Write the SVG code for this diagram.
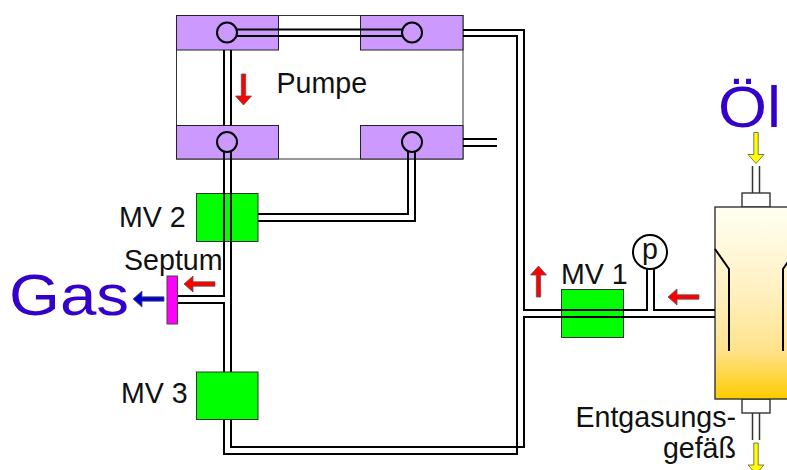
<svg xmlns="http://www.w3.org/2000/svg" width="787" height="470" viewBox="0 0 787 470">
<style>
text{font-family:"Liberation Sans",Arial,sans-serif;font-size:28.600px;fill:#111}
.big{font-size:58px;fill:#3300cc}
.pipe{fill:none;stroke:#000;stroke-width:2}
.frame{fill:#fff;stroke:#333;stroke-width:1}
.block{fill:#cc99ff;stroke:#222;stroke-width:1}
.valve{fill:#00ff00;stroke:#333;stroke-width:1}
.port{fill:none;stroke:#000;stroke-width:2}
.red{fill:#ff0000;stroke:#555;stroke-width:.8}
.yel{fill:#ffff00;stroke:#555;stroke-width:.8}
.blu{fill:#0000cc;stroke:#555;stroke-width:.8}
</style>
<defs>
<linearGradient id="oil" x1="0" y1="0" x2="0" y2="1">
<stop offset="0" stop-color="#fffff2"/>
<stop offset=".45" stop-color="#fff0c0"/>
<stop offset=".75" stop-color="#ffe28a"/>
<stop offset="1" stop-color="#ffcc00"/>
</linearGradient>
<polygon id="arr" points="-2.2,0 2.2,0 2.2,22 8,22 0,31 -8,22 -2.2,22"/>
</defs>

<g id="vessel">
<rect x="742" y="193" width="28" height="14" fill="#fff" stroke="#333" stroke-width="1.4"/>
<rect x="742" y="399" width="28" height="14" fill="#fff" stroke="#333" stroke-width="1.4"/>
<rect x="715" y="207" width="90" height="192" fill="url(#oil)" stroke="#333" stroke-width="1.4"/>
<path class="pipe" d="M715 249L729 269V351M797 249L783 269V351"/>
<path d="M752.5 166V193M759.5 166V193M752.5 413V440M759.5 413V440" fill="none" stroke="#333" stroke-width="1.5"/>
</g>

<g id="pump">
<rect class="frame" x="176.500" y="15.500" width="286.500" height="143.500"/>
<rect class="block" x="176.500" y="15.500" width="102" height="34.500"/>
<rect class="block" x="360.500" y="15.500" width="102.500" height="34.500"/>
<rect class="block" x="176.500" y="125.500" width="102" height="33.500"/>
<rect class="block" x="360.500" y="125.500" width="102.500" height="33.500"/>
<circle class="port" cx="227" cy="32.500" r="10"/>
<circle class="port" cx="412" cy="32.500" r="10"/>
<circle class="port" cx="227" cy="142" r="10"/>
<circle class="port" cx="412" cy="142" r="10"/>
<text x="276.500" y="93">Pumpe</text>
</g>

<g id="mv1"><rect class="valve" x="561.500" y="289.500" width="62" height="48"/><text x="561" y="284">MV 1</text></g>
<g id="mv2"><rect class="valve" x="196.500" y="193.500" width="61.500" height="48"/><text x="119" y="227">MV 2</text></g>

<g id="connectors">
<path class="pipe" d="M237 29.500H402M237 36H402"/>
<path class="pipe" d="M224 50V125.500M231 50V125.500"/>
<path class="pipe" d="M463 30H524V310H647V268M654 268V310H715"/>
<path class="pipe" d="M463 36H517V454H224V420M231 420V447H524V317H715"/>
<path class="pipe" d="M463 139H497M463 146H497"/>
<path class="pipe" d="M258 214H408V152M258 221H415V152"/>
<path class="pipe" d="M224 152V296H178M231 152V372M178 303H224V372"/>
</g>

<g id="mv3"><rect class="valve" x="196.500" y="372" width="61.500" height="47.500"/><text x="121" y="403">MV 3</text></g>
<g id="septum"><rect x="167" y="276" width="10.500" height="48" fill="#ff00ff" stroke="#444" stroke-width="1"/><text x="124" y="270">Septum</text></g>
<g id="gauge"><circle cx="650" cy="252" r="17" fill="#fff" stroke="#000" stroke-width="2"/><text x="642" y="259">p</text></g>
<g id="gas"><text class="big" x="9" y="315" textLength="120" lengthAdjust="spacingAndGlyphs">Gas</text></g>
<g id="oil-label"><text class="big" x="718" y="127" textLength="63" lengthAdjust="spacingAndGlyphs">Öl</text></g>
<g id="vessel-label"><text x="736" y="427" text-anchor="end">Entgasungs-</text><text x="736" y="458" text-anchor="end">gefäß</text></g>

<g id="arrows">
<use href="#arr" class="red" transform="translate(243.500,74)"/>
<use href="#arr" class="red" transform="translate(215,284) rotate(90)"/>
<use href="#arr" class="blu" transform="translate(164,299) rotate(90)"/>
<use href="#arr" class="red" transform="translate(538.500,297) rotate(180)"/>
<use href="#arr" class="red" transform="translate(699,297) rotate(90)"/>
<use href="#arr" class="yel" transform="translate(756,132.500)"/>
<use href="#arr" class="yel" transform="translate(756,443)"/>
</g>
</svg>
